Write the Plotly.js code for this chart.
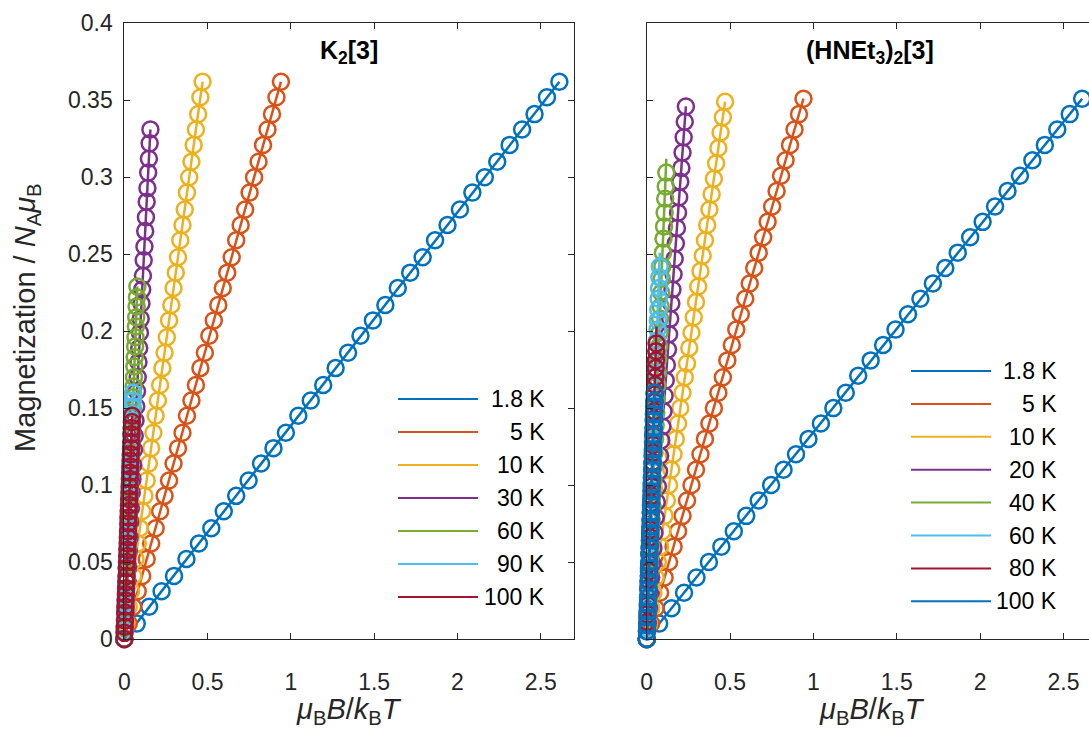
<!DOCTYPE html>
<html>
<head>
<meta charset="utf-8">
<script src="https://cdn.plot.ly/plotly-3.0.1.min.js"></script>
<style>
  html, body { margin: 0; padding: 0; background: #fff; }
  #chart { width: 1089px; height: 729px; }
</style>
</head>
<body>
<div id="chart"></div>
<script>
// Applied field (T) for every isotherm
const fieldT = [0, 0.2, 0.4, 0.6, 0.8, 1.0, 1.2, 1.4, 1.6, 1.8, 2.0, 2.2, 2.4, 2.6, 2.8, 3.0, 3.2, 3.4,
                3.6, 3.8, 4.0, 4.2, 4.4, 4.6, 4.8, 5.0, 5.2, 5.4, 5.6, 5.8, 6.0, 6.2, 6.4, 6.6, 6.8, 7.0];

// μB/kB in K per tesla, converts (B, T) to the reduced field μB·B/kB·T
const MUB_OVER_KB = 0.67171;

// ---- K2[3] ----
const tempsK = [1.8, 5, 10, 30, 60, 90, 100];
const mK_1p8 = [0, .010, .021, .031, .041, .052, .062, .072, .083, .093, .103, .114, .124, .134, .145, .155, .165, .176,
                .186, .197, .207, .217, .228, .238, .248, .259, .269, .279, .290, .300, .310, .321, .331, .341, .352, .362];
const mK_5   = [0, .010, .021, .031, .041, .052, .062, .072, .083, .093, .103, .114, .124, .134, .145, .155, .165, .176,
                .186, .197, .207, .217, .228, .238, .248, .259, .269, .279, .290, .300, .310, .321, .331, .341, .352, .362];
const mK_10  = [0, .010, .021, .031, .041, .052, .062, .072, .083, .093, .103, .114, .124, .134, .145, .155, .165, .176,
                .186, .196, .207, .217, .228, .238, .248, .259, .269, .279, .290, .300, .310, .321, .331, .341, .352, .362];
const mK_30  = [0, .009, .019, .028, .038, .047, .057, .066, .076, .085, .095, .104, .113, .123, .132, .142, .151, .161,
                .170, .180, .189, .199, .208, .218, .227, .236, .246, .255, .265, .274, .284, .293, .303, .312, .322, .331];
const mK_60  = [0, .007, .013, .020, .026, .033, .039, .046, .052, .059, .065, .072, .079, .085, .092, .098, .105, .111,
                .118, .124, .131, .137, .144, .150, .157, .164, .170, .177, .183, .190, .196, .203, .209, .216, .222, .229];
const mK_90  = [0, .005, .009, .014, .018, .023, .027, .032, .037, .041, .046, .050, .055, .059, .064, .069, .073, .078,
                .082, .087, .091, .096, .101, .105, .110, .114, .119, .123, .128, .133, .137, .142, .146, .151, .155, .160];
const mK_100 = [0, .004, .008, .012, .017, .021, .025, .029, .033, .037, .041, .046, .050, .054, .058, .062, .066, .070,
                .075, .079, .083, .087, .091, .095, .099, .104, .108, .112, .116, .120, .124, .128, .133, .137, .141, .145];
const magK = [mK_1p8, mK_5, mK_10, mK_30, mK_60, mK_90, mK_100];
// linear-fit value at 7 T
const fitK = [0.362, 0.362, 0.362, 0.331, 0.229, 0.160, 0.145];

// ---- (HNEt3)2[3] ----
const tempsH = [1.8, 5, 10, 20, 40, 60, 80, 100];
const mH_1p8 = [0, .010, .020, .030, .040, .050, .060, .070, .080, .090, .100, .110, .120, .130, .140, .150, .160, .171,
                .181, .191, .201, .211, .221, .231, .241, .251, .261, .271, .281, .291, .301, .311, .321, .331, .341, .351];
const mH_5   = [0, .010, .020, .030, .040, .050, .060, .070, .080, .090, .100, .110, .120, .130, .140, .150, .160, .170,
                .181, .191, .201, .211, .221, .231, .241, .251, .261, .271, .281, .291, .301, .311, .321, .331, .341, .351];
const mH_10  = [0, .010, .020, .030, .040, .050, .060, .070, .080, .090, .100, .110, .120, .130, .140, .150, .160, .170,
                .179, .189, .199, .209, .219, .229, .239, .249, .259, .269, .279, .289, .299, .309, .319, .329, .339, .349];
const mH_20  = [0, .010, .020, .030, .040, .049, .059, .069, .079, .089, .099, .109, .119, .129, .138, .148, .158, .168,
                .178, .188, .198, .208, .218, .227, .237, .247, .257, .267, .277, .287, .297, .306, .316, .326, .336, .346];
const mH_40  = [0, .009, .017, .026, .035, .043, .052, .061, .069, .078, .087, .095, .104, .113, .121, .130, .139, .147,
                .156, .165, .173, .182, .190, .199, .208, .216, .225, .234, .242, .251, .260, .268, .277, .286, .294, .303];
const mH_60  = [0, .007, .014, .021, .028, .035, .041, .048, .055, .062, .069, .076, .083, .090, .097, .104, .111, .118,
                .124, .131, .138, .145, .152, .159, .166, .173, .180, .187, .194, .201, .207, .214, .221, .228, .235, .242];
const mH_80  = [0, .005, .011, .016, .022, .027, .033, .038, .044, .049, .055, .060, .066, .071, .077, .082, .088, .093,
                .099, .104, .110, .115, .121, .126, .132, .137, .143, .148, .154, .159, .165, .170, .176, .181, .187, .192];
const mH_100 = [0, .005, .009, .014, .018, .023, .027, .032, .037, .041, .046, .050, .055, .059, .064, .069, .073, .078,
                .082, .087, .091, .096, .101, .105, .110, .114, .119, .123, .128, .133, .137, .142, .146, .151, .155, .160];
const magH = [mH_1p8, mH_5, mH_10, mH_20, mH_40, mH_60, mH_80, mH_100];
const fitH = [0.351, 0.351, 0.349, 0.346, 0.312, 0.251, 0.203, 0.160];

// axis ticks
const xTicks = [0, 0.5, 1, 1.5, 2, 2.5];
const xTickText = ['0', '0.5', '1', '1.5', '2', '2.5'];
const yTicks = [0, 0.05, 0.1, 0.15, 0.2, 0.25, 0.3, 0.35, 0.4];
const yTickText = ['0', '0.05', '0.1', '0.15', '0.2', '0.25', '0.3', '0.35', '0.4'];

// default line colour order
const palette = ['#0072BD', '#D95319', '#EDB120', '#7E2F8E', '#77AC30', '#4DBEEE', '#A2142F'];

const W = 1089, H = 729;
const px = v => v / W;
const py = v => 1 - v / H;

const FONT = 'Liberation Sans, Arial, Helvetica, sans-serif';
const INK = '#262626';

function reduced(T) { return fieldT.map(b => MUB_OVER_KB * b / T); }

const traces = [];
function addPanel(temps, mags, fits, xa, ya) {
  temps.forEach((T, i) => {
    const col = palette[i % palette.length];
    const xr = reduced(T);
    traces.push({
      type: 'scatter', mode: 'markers', x: xr, y: mags[i], xaxis: xa, yaxis: ya,
      showlegend: false, cliponaxis: false, hoverinfo: 'skip',
      marker: { symbol: 'circle-open', size: 16, color: col, line: { width: 2.5, color: col } }
    });
    traces.push({
      type: 'scatter', mode: 'lines', x: [0, xr[xr.length - 1]], y: [0, fits[i]],
      xaxis: xa, yaxis: ya, showlegend: false, cliponaxis: false,
      line: { color: col, width: 2.5 }
    });
  });
}
addPanel(tempsK, magK, fitK, 'x', 'y');
addPanel(tempsH, magH, fitH, 'x2', 'y2');

// legends: line sample + right-aligned label
const shapes = [];
const annotations = [];
function addLegend(temps, y0, dy, lx0, lx1, tx) {
  temps.forEach((T, i) => {
    const y = y0 + i * dy;
    shapes.push({ type: 'line', xref: 'paper', yref: 'paper', x0: px(lx0), x1: px(lx1), y0: py(y), y1: py(y),
                  line: { color: palette[i % palette.length], width: 2 } });
    annotations.push({ xref: 'paper', yref: 'paper', x: px(tx), y: py(y), xanchor: 'right', yanchor: 'middle',
                       text: T + ' K', showarrow: false, font: { family: FONT, size: 23, color: '#000' } });
  });
}
addLegend(tempsK, 399, 33, 398, 478, 547);
addLegend(tempsH, 371, 32.9, 911, 991, 1059);

// panel titles
annotations.push({ xref: 'paper', yref: 'paper', x: px(349), y: py(52), xanchor: 'center', yanchor: 'middle',
  text: '<b>K<sub>2</sub>[3]</b>', showarrow: false, font: { family: FONT, size: 25, color: '#000' } });
annotations.push({ xref: 'paper', yref: 'paper', x: px(870), y: py(52), xanchor: 'center', yanchor: 'middle',
  text: '<b>(HNEt<sub>3</sub>)<sub>2</sub>[3]</b>', showarrow: false, font: { family: FONT, size: 25, color: '#000' } });

// axis titles
const xTitle = '<i>μ</i><sub>B</sub><i>B</i>/<i>k</i><sub>B</sub><i>T</i>';
annotations.push({ xref: 'paper', yref: 'paper', x: px(349), y: py(711), xanchor: 'center', yanchor: 'middle',
  text: xTitle, showarrow: false, font: { family: FONT, size: 29, color: INK } });
annotations.push({ xref: 'paper', yref: 'paper', x: px(872), y: py(711), xanchor: 'center', yanchor: 'middle',
  text: xTitle, showarrow: false, font: { family: FONT, size: 29, color: INK } });
annotations.push({ xref: 'paper', yref: 'paper', x: px(27), y: py(318), xanchor: 'center', yanchor: 'middle',
  textangle: -90, text: 'Magnetization / <i>N</i><sub>A</sub><i>μ</i><sub>B</sub>', showarrow: false,
  font: { family: FONT, size: 29, color: INK } });

const axisCommon = {
  showgrid: false, zeroline: false, showline: true, linecolor: INK, linewidth: 1,
  ticks: 'inside', ticklen: 6, tickwidth: 1, tickcolor: INK,
  tickfont: { family: FONT, size: 23, color: INK }, fixedrange: true
};
const yDomain = [py(639), py(23.3)];

const layout = {
  width: W, height: H,
  margin: { l: 0, r: 0, t: 0, b: 0 },
  paper_bgcolor: '#fff', plot_bgcolor: '#fff',
  showlegend: false,
  xaxis: Object.assign({}, axisCommon, { domain: [px(124.3), px(574)], range: [0, 2.7], mirror: 'ticks',
    tickvals: xTicks, ticktext: xTickText, ticklabelstandoff: 22, anchor: 'y' }),
  yaxis: Object.assign({}, axisCommon, { domain: yDomain, range: [0, 0.4], mirror: 'ticks',
    tickvals: yTicks, ticktext: yTickText, ticklabelstandoff: 6, anchor: 'x' }),
  xaxis2: Object.assign({}, axisCommon, { domain: [px(646.7), 1], range: [0, (W - 646.7) / 166.7], mirror: 'ticks',
    tickvals: xTicks, ticktext: xTickText, ticklabelstandoff: 22, anchor: 'y2' }),
  yaxis2: Object.assign({}, axisCommon, { domain: yDomain, range: [0, 0.4], mirror: false,
    tickvals: yTicks, showticklabels: false, anchor: 'x2' }),
  shapes: shapes,
  annotations: annotations
};

Plotly.newPlot('chart', traces, layout, { staticPlot: true, displayModeBar: false });
</script>
</body>
</html>
